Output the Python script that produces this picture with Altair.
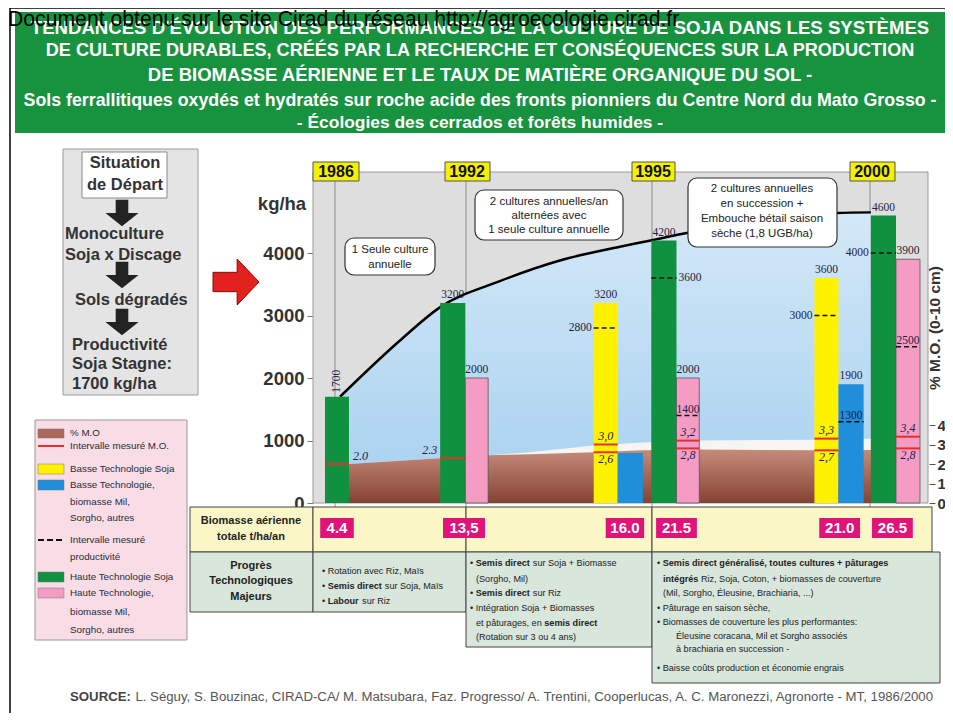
import unicodedata
import altair as alt
import pandas as pd

# ---------------- data ----------------
years = ["1986", "1992", "1995", "2000"]
bar_kind = ["hs", "hs", "hb", "bs", "bb", "hs", "hb", "bs", "bb", "hs", "hb"]
bar_kgha = [1700, 3200, 2000, 3200, 800, 4200, 2000, 3600, 1900, 4600, 3900]
bar_top_text = ["1700", "3200", "2000", "3200", "", "4200", "2000", "3600", "1900", "4600", "3900"]
dash_kgha = [None, None, None, 2800, None, 3600, 1400, 3000, 1300, 4000, 2500]
dash_text = ["", "", "", "2800", "", "3600", "1400", "3000", "1300", "4000", "2500"]
mo_high = [None, None, None, 3.0, None, None, 3.2, 3.3, None, None, 3.4]
mo_low = [2.0, 2.3, None, 2.6, None, None, 2.8, 2.7, None, None, 2.8]
mo_high_text = ["", "", "", "3,0", "", "", "3,2", "3,3", "", "", "3,4"]
mo_low_text = ["2.0", "2.3", "", "2,6", "", "", "2,8", "2,7", "", "", "2,8"]
biomass = [4.4, 13.5, 16.0, 21.5, 21.0, 26.5]
biomass_text = ["4.4", "13,5", "16.0", "21.5", "21.0", "26.5"]
curve_kgha = [1700, 2600, 3130, 3550, 3880, 4100, 4200, 4320, 4500, 4640, 4650]
mo_lower = [2.0, 2.0, 2.3, 2.45, 2.5, 2.6, 2.7, 2.75, 2.7, 2.72, 2.75]
mo_upper = [2.0, 2.0, 2.3, 2.45, 2.6, 2.95, 3.1, 3.2, 3.25, 3.3, 3.35]
kg_ticks = [0, 1000, 2000, 3000, 4000]
mo_ticks = [0, 1, 2, 3, 4]

# ---------------- layout (schematic positions, bar-width units) ----------------
bar_x0 = [0.5, 5.3, 6.35, 11.7, 12.7, 14.1, 15.15, 20.9, 21.9, 23.25, 24.3]
bar_x1 = [1.5, 6.35, 7.3, 12.7, 13.75, 15.15, 16.1, 21.9, 22.95, 24.3, 25.3]
dash_side = ["", "", "", "left", "", "right", "in", "left", "in", "left", "in"]
curve_pos = [1.125, 3.625, 5.29, 7.79, 10.29, 12.79, 14.08, 15.58, 18.625, 21.83, 23.25]
mo_pos = [0.5, 1.5, 5.3, 7.33, 9.04, 11.7, 13.75, 16.1, 20.9, 23.25, 25.3]
bio_x0 = [0.3, 5.42, 12.2, 14.3, 21.1, 23.3]
bio_x1 = [1.7, 7.17, 13.8, 16.0, 22.8, 25.0]

kind_color = {"hs": "#10913f", "hb": "#f59cc4", "bs": "#fff200", "bb": "#1f8edb"}

SANS = "Liberation Sans, Arial, sans-serif"
SERIF = "Liberation Serif, Times New Roman, serif"

W, H = 937, 705
PXS = alt.Scale(domain=[8, 945], range=[0, W])
PYS = alt.Scale(domain=[8, 713], range=[0, H])
XB = alt.Scale(domain=[0, 25.8], range=[305, 924])
YKG = alt.Scale(domain=[0, 4000], range=[495, 245])
YMO = alt.Scale(domain=[0, 4], range=[495, 417])

REG = dict(zip("abcdefghijklmnopqrstuvwxyz",
               [556, 556, 500, 556, 556, 278, 556, 556, 222, 222, 500, 222, 833, 556, 556, 556, 556, 333, 500, 278, 556, 500, 722, 500, 500, 500]))
BLD = dict(zip("abcdefghijklmnopqrstuvwxyz",
               [556, 611, 556, 611, 556, 333, 611, 611, 278, 278, 556, 278, 889, 611, 611, 611, 611, 389, 556, 333, 611, 556, 778, 556, 556, 500]))


def tw(s, size, bold=False):
    tot = 0
    for ch in s:
        b = unicodedata.normalize("NFD", ch)[0]
        if b.islower():
            w = (BLD if bold else REG).get(b, 556)
        elif b.isupper():
            w = 722 if bold else 667
        elif b.isdigit():
            w = 556
        elif b in " ,.;/":
            w = 278
        elif b == ":":
            w = 333 if bold else 278
        elif b in "()-":
            w = 333
        elif b == "+":
            w = 584
        elif b == "\u2022":
            w = 350
        else:
            w = 556
        tot += w
    return tot / 1000.0 * size


layers = []


def prect(rows, **kw):
    df = pd.DataFrame(rows, columns=["x0", "y0", "x1", "y1"])
    return alt.Chart(df).mark_rect(**kw).encode(
        x=alt.X("x0:Q", scale=PXS, axis=None), x2="x1:Q",
        y=alt.Y("y0:Q", scale=PYS, axis=None), y2="y1:Q")


def prule(rows, **kw):
    df = pd.DataFrame(rows, columns=["x0", "y0", "x1", "y1"])
    return alt.Chart(df).mark_rule(**kw).encode(
        x=alt.X("x0:Q", scale=PXS, axis=None), x2="x1:Q",
        y=alt.Y("y0:Q", scale=PYS, axis=None), y2="y1:Q")


def ptext(rows, **kw):
    df = pd.DataFrame(rows, columns=["x", "y", "t"])
    return alt.Chart(df).mark_text(**kw).encode(
        x=alt.X("x:Q", scale=PXS, axis=None),
        y=alt.Y("y:Q", scale=PYS, axis=None), text="t:N")


def rich(lines, size, color="#222"):
    norm, bold = [], []
    for x, y, segs in lines:
        cx = x
        for s, b in segs:
            lead = len(s) - len(s.lstrip(" "))
            cx += tw(" " * lead, size, b)
            st = s.strip(" ")
            if st:
                (bold if b else norm).append((cx, y, st))
            cx += tw(s.lstrip(" "), size, b)
    out = []
    common = dict(font=SANS, fontSize=size, align="left", baseline="middle", color=color)
    if norm:
        out.append(ptext(norm, **common))
    if bold:
        out.append(ptext(bold, fontWeight="bold", **common))
    return out


# ---------- frame ----------
layers.append(prule([(10, 8, 945, 8), (10, 8, 10, 713)], color="black", strokeWidth=1.5))

# ---------- header ----------
layers.append(prect([(15, 12, 945, 133)], color="#17923f"))
hdr = [(28, 18.6, "TENDANCES D'ÉVOLUTION DES PERFORMANCES DE LA CULTURE DE SOJA DANS LES SYSTÈMES"),
       (51, 18.1, "DE CULTURE DURABLES, CRÉÉS PAR LA RECHERCHE ET CONSÉQUENCES SUR LA PRODUCTION"),
       (75, 18.5, "DE BIOMASSE AÉRIENNE ET LE TAUX DE MATIÈRE ORGANIQUE DU SOL -"),
       (101, 17.8, "Sols ferrallitiques oxydés et hydratés  sur roche acide des fronts pionniers du Centre Nord du Mato Grosso -"),
       (123, 17.4, "- Écologies des cerrados et forêts humides -")]
for y, fs, t in hdr:
    layers.append(ptext([(480, y, t)], font=SANS, fontSize=fs, fontWeight="bold", color="white",
                        align="center", baseline="middle"))
doc = "Document obtenu sur le site Cirad du réseau  http://agroecologie.cirad.fr"
layers.append(ptext([(8, 20, doc)], font=SANS, fontSize=round(676 / tw(doc, 1), 1), color="black",
                    align="left", baseline="middle"))

# ---------- flow box ----------
layers.append(prect([(63, 149, 198, 395)], color="#e4e4e4", stroke="#9a9a9a", strokeWidth=1))
layers.append(prect([(82, 152, 167, 198)], color="white", stroke="#888", strokeWidth=1))
flow_font = dict(font=SANS, fontSize=16.5, fontWeight="bold", color="#333", baseline="middle")
layers.append(ptext([(125, 163, "Situation"), (125, 185, "de Départ")], align="center", **flow_font))
layers.append(ptext([(65, 234, "Monoculture"), (65, 255, "Soja x Discage"), (75, 300, "Sols dégradés"),
                     (72, 345, "Productivité"), (72, 364, "Soja Stagne:"), (72, 384, "1700 kg/ha")],
                    align="left", **flow_font))
arrow_down = "M-0.38,-0.8L0.38,-0.8L0.38,0L1,0L0,0.8L-1,0L-0.38,0Z"
adf = pd.DataFrame({"x": [122, 122, 122], "y": [213, 275, 322]})
layers.append(alt.Chart(adf).mark_point(shape=arrow_down, size=1100, filled=True, color="#222", opacity=1).encode(
    x=alt.X("x:Q", scale=PXS, axis=None), y=alt.Y("y:Q", scale=PYS, axis=None)))
arrow_right = "M-1,-0.42L0.05,-0.42L0.05,-1L1,0L0.05,1L0.05,0.42L-1,0.42Z"
rdf = pd.DataFrame({"x": [236], "y": [282]})
layers.append(alt.Chart(rdf).mark_point(shape=arrow_right, size=2116, filled=True, color="#e3221e",
                                        stroke="#8a0a0a", strokeWidth=1, opacity=1).encode(
    x=alt.X("x:Q", scale=PXS, axis=None), y=alt.Y("y:Q", scale=PYS, axis=None)))

# ---------- chart panel ----------
layers.append(prect([(313, 172, 928, 503)], color="#dedede", stroke="#9a9a9a", strokeWidth=1))
layers.append(prule([(335, 172, 335, 507), (466, 172, 466, 552), (652, 172, 652, 552), (870, 172, 870, 507)],
                    color="#8a8a8a", strokeWidth=1))

# blue area under the productivity curve
cdf = pd.DataFrame({"pos": curve_pos, "kg": curve_kgha, "base": 0})
blue_grad = alt.Gradient(gradient="linear", x1=0, x2=0, y1=1, y2=0,
                         stops=[alt.GradientStop(color="#a6d0ef", offset=0),
                                alt.GradientStop(color="#d3e8f7", offset=1)])
layers.append(alt.Chart(cdf).mark_area(interpolate="monotone", color=blue_grad).encode(
    x=alt.X("pos:Q", scale=XB, axis=None), y=alt.Y("kg:Q", scale=YKG, axis=None), y2="base:Q"))

# soil organic matter: white interval band and brown area
mdf = pd.DataFrame({"pos": mo_pos, "low": mo_lower, "up": mo_upper, "base": 0})
layers.append(alt.Chart(mdf).mark_area(color="#f7f5f2").encode(
    x=alt.X("pos:Q", scale=XB, axis=None), y=alt.Y("up:Q", scale=YMO, axis=None), y2="base:Q"))
brown_grad = alt.Gradient(gradient="linear", x1=0, x2=0, y1=1, y2=0,
                          stops=[alt.GradientStop(color="#864233", offset=0),
                                 alt.GradientStop(color="#c58c7b", offset=1)])
layers.append(alt.Chart(mdf).mark_area(color=brown_grad).encode(
    x=alt.X("pos:Q", scale=XB, axis=None),
    y=alt.Y("low:Q", scale=YMO, axis=alt.Axis(orient="right", offset=-16, values=mo_ticks, title=None,
                                               domain=False, grid=False, tickSize=6, tickColor="#555",
                                               format="d", labelFont=SANS, labelFontSize=15,
                                               labelFontWeight="bold", labelColor="#333", labelPadding=2)),
    y2="base:Q"))

# productivity curve
layers.append(alt.Chart(cdf).mark_line(interpolate="monotone", color="black", strokeWidth=2.5).encode(
    x=alt.X("pos:Q", scale=XB, axis=None), y=alt.Y("kg:Q", scale=YKG, axis=None)))

# bars
bdf = pd.DataFrame({"x0": bar_x0, "x1": bar_x1, "kg": bar_kgha, "base": 0,
                    "col": [kind_color[k] for k in bar_kind], "kind": bar_kind})
bdf["xc"] = (bdf.x0 + bdf.x1) / 2
layers.append(alt.Chart(bdf).mark_rect().encode(
    x=alt.X("x0:Q", scale=XB, axis=None), x2="x1:Q",
    y=alt.Y("kg:Q", scale=YKG, axis=alt.Axis(orient="left", offset=-305, values=kg_ticks, title=None,
                                              domain=False, grid=False, tickSize=6, tickColor="#777",
                                              format="d", labelFont=SANS, labelFontSize=18.5,
                                              labelFontWeight="bold", labelColor="#333", labelPadding=3)),
    y2="base:Q", color=alt.Color("col:N", scale=None)))
pink = bdf[bdf.kind == "hb"]
layers.append(alt.Chart(pink).mark_rect(fill=None, stroke="#555", strokeWidth=0.8).encode(
    x=alt.X("x0:Q", scale=XB, axis=None), x2="x1:Q",
    y=alt.Y("kg:Q", scale=YKG, axis=None), y2="base:Q"))

# red M.O. interval marks on bars
red_rows = []
for i in range(len(bar_kind)):
    for v in (mo_high[i], mo_low[i]):
        if v is not None:
            red_rows.append((bar_x0[i], bar_x1[i], v))
rd = pd.DataFrame(red_rows, columns=["x0", "x1", "mo"])
layers.append(alt.Chart(rd).mark_rule(color="#e5302a", strokeWidth=2).encode(
    x=alt.X("x0:Q", scale=XB, axis=None), x2="x1:Q", y=alt.Y("mo:Q", scale=YMO, axis=None)))

# dashed productivity interval marks
dd = pd.DataFrame([(bar_x0[i], bar_x1[i], dash_kgha[i], dash_text[i], dash_side[i])
                   for i in range(len(bar_kind)) if dash_kgha[i] is not None],
                  columns=["x0", "x1", "kg", "t", "side"])
layers.append(alt.Chart(dd).mark_rule(color="#111", strokeWidth=1.6, strokeDash=[5, 3]).encode(
    x=alt.X("x0:Q", scale=XB, axis=None), x2="x1:Q", y=alt.Y("kg:Q", scale=YKG, axis=None)))

num_font = dict(font=SERIF, fontSize=11.5, color="#1c1c44")
top = bdf[[t != "" and t != "1700" for t in bar_top_text]].copy()
top["t"] = [t for t in bar_top_text if t not in ("", "1700")]
layers.append(alt.Chart(top).mark_text(align="center", baseline="bottom", dy=-3, **num_font).encode(
    x=alt.X("xc:Q", scale=XB, axis=None), y=alt.Y("kg:Q", scale=YKG, axis=None), text="t:N"))
first = bdf.iloc[[0]].copy()
first["t"] = [bar_top_text[0]]
layers.append(alt.Chart(first).mark_text(align="left", baseline="middle", angle=270, dx=4, **num_font).encode(
    x=alt.X("xc:Q", scale=XB, axis=None), y=alt.Y("kg:Q", scale=YKG, axis=None), text="t:N"))
for side, kw, xf in (("left", dict(align="right", dx=-2), "x0"), ("right", dict(align="left", dx=2), "x1")):
    sub = dd[dd.side == side]
    layers.append(alt.Chart(sub).mark_text(baseline="middle", **kw, **num_font).encode(
        x=alt.X(xf + ":Q", scale=XB, axis=None), y=alt.Y("kg:Q", scale=YKG, axis=None), text="t:N"))
sub = dd[dd.side == "in"].copy()
sub["xc"] = (sub.x0 + sub.x1) / 2
layers.append(alt.Chart(sub).mark_text(baseline="bottom", align="center", dy=-1, **num_font).encode(
    x=alt.X("xc:Q", scale=XB, axis=None), y=alt.Y("kg:Q", scale=YKG, axis=None), text="t:N"))

# M.O. value labels
mo_font = dict(font=SERIF, fontSize=12, fontStyle="italic", color="#1c1c50")
hi = pd.DataFrame([((bar_x0[i] + bar_x1[i]) / 2, mo_high[i], mo_high_text[i])
                   for i in range(len(bar_kind)) if mo_high[i] is not None], columns=["x", "mo", "t"])
lo = pd.DataFrame([((bar_x0[i] + bar_x1[i]) / 2, mo_low[i], mo_low_text[i])
                   for i in range(len(bar_kind)) if mo_high[i] is not None], columns=["x", "mo", "t"])
layers.append(alt.Chart(hi).mark_text(align="center", baseline="bottom", dy=-2, **mo_font).encode(
    x=alt.X("x:Q", scale=XB, axis=None), y=alt.Y("mo:Q", scale=YMO, axis=None), text="t:N"))
layers.append(alt.Chart(lo).mark_text(align="center", baseline="top", dy=2, **mo_font).encode(
    x=alt.X("x:Q", scale=XB, axis=None), y=alt.Y("mo:Q", scale=YMO, axis=None), text="t:N"))
e1 = pd.DataFrame({"x": [bar_x1[0]], "mo": [mo_low[0]], "t": [mo_low_text[0]]})
layers.append(alt.Chart(e1).mark_text(align="left", baseline="bottom", dx=4, dy=-1, **mo_font).encode(
    x=alt.X("x:Q", scale=XB, axis=None), y=alt.Y("mo:Q", scale=YMO, axis=None), text="t:N"))
e2 = pd.DataFrame({"x": [bar_x0[1]], "mo": [mo_low[1]], "t": [mo_low_text[1]]})
layers.append(alt.Chart(e2).mark_text(align="right", baseline="bottom", dx=-3, dy=-1, **mo_font).encode(
    x=alt.X("x:Q", scale=XB, axis=None), y=alt.Y("mo:Q", scale=YMO, axis=None), text="t:N"))

# callouts
layers.append(prect([(345, 238, 435, 275), (475, 190, 623, 240), (688, 178, 837, 247)],
                    color="white", stroke="#333", strokeWidth=1.2, cornerRadius=9))
call_font = dict(font=SANS, fontSize=11.5, color="#222", align="center", baseline="middle")
layers.append(ptext([(390, 250, "1 Seule culture"), (390, 265, "annuelle"),
                     (549, 202, "2 cultures annuelles/an"), (549, 216, "alternées avec"),
                     (549, 230, "1 seule culture annuelle"),
                     (762, 189, "2 cultures annuelles"), (762, 204, "en succession +"),
                     (762, 219, "Embouche bétail saison"), (762, 234, "sèche (1,8 UGB/ha)")], **call_font))

# year boxes
layers.append(prect([(313, 162, 359, 181), (445, 162, 490, 181), (632, 162, 675, 181), (850, 162, 895, 181)],
                    color="#f3f000", stroke="#555", strokeWidth=1))
layers.append(ptext([(336, 172, years[0]), (467, 172, years[1]), (653, 172, years[2]), (872, 172, years[3])],
                    font=SANS, fontSize=16, fontWeight="bold", color="#111", align="center", baseline="middle"))

# axis titles
layers.append(ptext([(282, 204, "kg/ha")], font=SANS, fontSize=18.5, fontWeight="bold", color="#333",
                    align="center", baseline="middle"))
layers.append(ptext([(935, 328, "% M.O. (0-10 cm)")], font=SANS, fontSize=15.5, fontWeight="bold", color="#333",
                    align="center", baseline="middle", angle=270))

# ---------- table ----------
layers.append(prect([(190, 507, 313, 552), (313, 507, 466, 552), (466, 507, 652, 552), (652, 507, 932, 552)],
                    color="#fbf6c6", stroke="#444", strokeWidth=1))
layers.append(prect([(190, 552, 313, 612), (313, 552, 466, 612), (466, 552, 652, 647), (652, 552, 940, 683)],
                    color="#d8e6dc", stroke="#444", strokeWidth=1))
lab_font = dict(font=SANS, fontSize=11, fontWeight="bold", color="#222", align="center", baseline="middle")
layers.append(ptext([(251, 521, "Biomasse aérienne"), (251, 537, "totale t/ha/an"),
                     (251, 566, "Progrès"), (251, 581, "Technologiques"), (251, 597, "Majeurs")], **lab_font))
bio = pd.DataFrame({"x0": bio_x0, "x1": bio_x1, "y0": 518, "y1": 538, "v": biomass, "t": biomass_text})
bio["xc"] = (bio.x0 + bio.x1) / 2
bio["yc"] = 528
layers.append(alt.Chart(bio).mark_rect(color="#e0137b").encode(
    x=alt.X("x0:Q", scale=XB, axis=None), x2="x1:Q", y=alt.Y("y0:Q", scale=PYS, axis=None), y2="y1:Q"))
layers.append(alt.Chart(bio).mark_text(font=SANS, fontSize=15, fontWeight="bold", color="white",
                                       align="center", baseline="middle").encode(
    x=alt.X("xc:Q", scale=XB, axis=None), y=alt.Y("yc:Q", scale=PYS, axis=None), text="t:N"))

B = "\u2022 "
table_lines = [
    (322, 571, [(B + "Rotation avec Riz, Maïs", False)]),
    (322, 586, [(B, False), ("Semis direct", True), (" sur Soja, Maïs", False)]),
    (322, 601, [(B, False), ("Labour", True), (" sur Riz", False)]),
    (470, 563, [(B, False), ("Semis direct", True), (" sur Soja + Biomasse", False)]),
    (476, 579, [("(Sorgho, Mil)", False)]),
    (470, 593, [(B, False), ("Semis direct", True), (" sur Riz", False)]),
    (470, 608, [(B + "Intégration Soja + Biomasses", False)]),
    (476, 623, [("et pâturages, en ", False), ("semis direct", True)]),
    (476, 637, [("(Rotation sur 3 ou 4 ans)", False)]),
    (657, 563, [(B, False), ("Semis direct généralisé, toutes cultures + pâturages", True)]),
    (663, 579, [("intégrés", True), (" Riz, Soja, Coton, + biomasses de couverture", False)]),
    (663, 593, [("(Mil, Sorgho, Éleusine, Brachiaria, ...)", False)]),
    (657, 608, [(B + "Pâturage en saison sèche,", False)]),
    (657, 622, [(B + "Biomasses de couverture les plus performantes:", False)]),
    (676, 636, [("Éleusine coracana, Mil et Sorgho associés", False)]),
    (676, 649, [("à brachiaria en succession -", False)]),
    (657, 668, [(B + "Baisse coûts production et économie engrais", False)]),
]
layers += rich(table_lines, 9.1)

# ---------- legend ----------
layers.append(prect([(35, 420, 187, 640)], color="#f8dde6", stroke="#999", strokeWidth=1))
sw = [(38, 429, 64, 438, "#a8695b"), (38, 464, 64, 474, kind_color["bs"]), (38, 480, 64, 490, kind_color["bb"]),
      (38, 572, 64, 582, kind_color["hs"]), (38, 588, 64, 598, kind_color["hb"])]
swdf = pd.DataFrame(sw, columns=["x0", "y0", "x1", "y1", "col"])
layers.append(alt.Chart(swdf).mark_rect(stroke="#777", strokeWidth=0.5).encode(
    x=alt.X("x0:Q", scale=PXS, axis=None), x2="x1:Q", y=alt.Y("y0:Q", scale=PYS, axis=None), y2="y1:Q",
    color=alt.Color("col:N", scale=None)))
layers.append(prule([(38, 446, 64, 446)], color="#e5302a", strokeWidth=2))
layers.append(prule([(38, 540, 64, 540)], color="#111", strokeWidth=1.8, strokeDash=[6, 3]))
layers.append(ptext([(70, 433, "% M.O"), (70, 446, "Intervalle mesuré M.O."), (70, 469, "Basse Technologie Soja"),
                     (70, 485, "Basse Technologie,"), (70, 502, "biomasse Mil,"), (70, 518, "Sorgho, autres"),
                     (70, 540, "Intervalle mesuré"), (70, 557, "productivité"), (70, 577, "Haute Technologie Soja"),
                     (70, 593, "Haute Technologie,"), (70, 612, "biomasse Mil,"), (70, 630, "Sorgho, autres")],
                    font=SANS, fontSize=9.8, color="#2a2a3a", align="left", baseline="middle"))

# ---------- source ----------
src_b = "SOURCE:"
src_r = ("L. Séguy, S. Bouzinac, CIRAD-CA/ M. Matsubara, Faz. Progresso/ A. Trentini, Cooperlucas, "
         "A. C. Maronezzi, Agronorte - MT, 1986/2000")
src_size = round(865 / (tw(src_b + " ", 1, True) + tw(src_r, 1)), 2)
layers += [ptext([(70, 697, src_b)], font=SANS, fontSize=src_size, fontWeight="bold", color="#444",
                 align="left", baseline="middle"),
           ptext([(70 + tw(src_b + " ", src_size, True), 697, src_r)],
                 font=SANS, fontSize=src_size, color="#555", align="left", baseline="middle")]

chart = alt.layer(*layers).resolve_scale(x="independent", y="independent").properties(
    width=W, height=H, autosize=alt.AutoSizeParams(type="none"), padding=0,
    background="white").configure_view(stroke=None)

chart.save("out.html", embed_options={"renderer": "svg", "actions": False})
